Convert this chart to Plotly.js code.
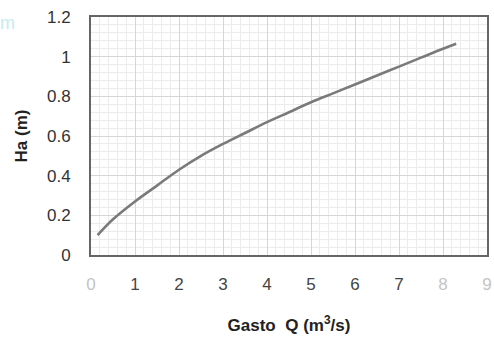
<!DOCTYPE html>
<html>
<head>
<meta charset="utf-8">
<script src="https://cdn.plot.ly/plotly-3.0.1.min.js"></script>
<style>html,body{margin:0;padding:0;background:#fff;}#chart{width:494px;height:341px;}</style>
</head>
<body>
<div id="chart"></div>
<script>
// Data
const gastoQ = [0.15, 0.5, 1, 1.5, 2, 2.5, 3, 3.5, 4, 4.5, 5, 5.5, 6, 6.5, 7, 7.5, 8, 8.3];
const ha     = [0.10, 0.18, 0.27, 0.35, 0.43, 0.50, 0.56, 0.615, 0.67, 0.72, 0.77, 0.815, 0.86, 0.905, 0.95, 0.995, 1.04, 1.065];

const xTickVals = [0, 1, 2, 3, 4, 5, 6, 7, 8, 9];
const xTickText = ['0', '1', '2', '3', '4', '5', '6', '7', '8', '9'];
const xFaded = [0, 8, 9];
const yTickVals = [0, 0.2, 0.4, 0.6, 0.8, 1, 1.2];
const yTickText = ['0', '0.2', '0.4', '0.6', '0.8', '1', '1.2'];

const xTickLabels = xTickVals.map((v, i) =>
  xFaded.includes(v) ? '<span style="color:#c4c4c4">' + xTickText[i] + '</span>' : xTickText[i]);

const trace = {
  x: gastoQ, y: ha, type: 'scatter', mode: 'lines',
  line: {color: '#7a7a7a', width: 2.6, shape: 'spline', smoothing: 1},
  hoverinfo: 'skip'
};

const layout = {
  width: 494, height: 341,
  margin: {l: 91, r: 7, t: 17, b: 86},
  paper_bgcolor: '#ffffff', plot_bgcolor: '#ffffff',
  font: {family: 'Liberation Sans, Arial, sans-serif', color: '#333333'},
  showlegend: false,
  xaxis: {
    range: [0, 9], tickvals: xTickVals, ticktext: xTickLabels,
    ticks: 'outside', ticklen: 13, tickcolor: 'rgba(0,0,0,0)',
    tickfont: {size: 17, color: '#444444'},
    showgrid: true, gridcolor: '#d6d6d6', gridwidth: 1,
    minor: {dtick: 0.2, showgrid: true, gridcolor: '#ececec', gridwidth: 1},
    showline: true, linecolor: '#666666', linewidth: 2, mirror: true,
    zeroline: false,
    title: {text: '<b>Gasto\u00a0\u00a0Q (m<sup>3</sup>/s)</b>', font: {size: 17, color: '#222222'}, standoff: 26}
  },
  yaxis: {
    range: [0, 1.2], tickvals: yTickVals, ticktext: yTickText,
    ticks: 'outside', ticklen: 15, tickcolor: 'rgba(0,0,0,0)',
    tickfont: {size: 17, color: '#333333'},
    showgrid: true, gridcolor: '#d6d6d6', gridwidth: 1,
    minor: {dtick: 0.04, showgrid: true, gridcolor: '#ececec', gridwidth: 1},
    showline: true, linecolor: '#666666', linewidth: 2, mirror: true,
    zeroline: false,
    title: {text: '<b>Ha (m)</b>', font: {size: 17, color: '#222222'}, standoff: 15}
  },
  annotations: [{
    text: 'm', xref: 'paper', yref: 'paper', x: -0.235, y: 0.975,
    xanchor: 'left', yanchor: 'middle', showarrow: false,
    font: {size: 18, color: '#c6eaf0'}
  }]
};

Plotly.newPlot('chart', [trace], layout, {displayModeBar: false, staticPlot: true});
</script>
</body>
</html>
